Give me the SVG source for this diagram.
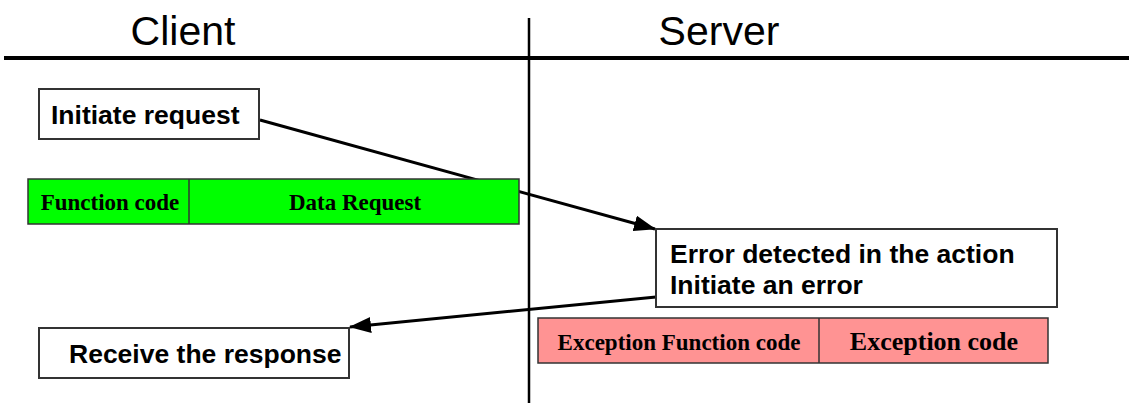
<svg xmlns="http://www.w3.org/2000/svg" width="1129" height="403" viewBox="0 0 1129 403">
<style>
.box{fill:#fff;stroke:#333;stroke-width:2}
.lbl{font-family:"Liberation Sans",Arial,sans-serif;font-weight:bold;font-size:26.5px;fill:#000}
.fld{font-family:"Liberation Serif","Times New Roman",serif;font-weight:bold;fill:#000;text-anchor:middle}
.hdr{font-family:"Liberation Sans",Arial,sans-serif;font-size:41px;fill:#000;text-anchor:middle}
.conn{stroke:#000;stroke-width:3;fill:none}
</style>
<defs>
<marker id="ah2" markerWidth="22" markerHeight="16" refX="21" refY="8" orient="auto" markerUnits="userSpaceOnUse" viewBox="0 0 22 16">
<path d="M0,0 L22,8 L0,16 Z" fill="#000"/>
</marker>
</defs>
<g id="lanes">
<line x1="4" y1="58" x2="1129" y2="58" stroke="#000" stroke-width="4"/>
<line x1="529" y1="18" x2="529" y2="403" stroke="#000" stroke-width="2.5"/>
<text class="hdr" x="183" y="45">Client</text>
<text class="hdr" x="719" y="45">Server</text>
</g>
<g id="connectors">
<line class="conn" x1="260" y1="120" x2="655" y2="229" marker-end="url(#ah2)"/>
<line class="conn" x1="656" y1="297" x2="350" y2="327" marker-end="url(#ah2)"/>
</g>
<g id="initiate">
<rect class="box" x="39" y="89" width="220" height="50"/>
<text class="lbl" x="51" y="124">Initiate request</text>
</g>
<g id="request-frame">
<rect x="28" y="179" width="491" height="45" fill="#00ff00" stroke="#333" stroke-width="1.5"/>
<line x1="189" y1="179" x2="189" y2="224" stroke="#333" stroke-width="1.5"/>
<text class="fld" x="110" y="210" font-size="23">Function code</text>
<text class="fld" x="355" y="210" font-size="23">Data Request</text>
</g>
<g id="error">
<rect class="box" x="656" y="229" width="401" height="78"/>
<text class="lbl" x="670" y="263">Error detected in the action</text>
<text class="lbl" x="670" y="294">Initiate an error</text>
</g>
<g id="exception-frame">
<rect x="538" y="318" width="510" height="45" fill="#ff9393" stroke="#333" stroke-width="1.5"/>
<line x1="819" y1="318" x2="819" y2="363" stroke="#333" stroke-width="1.5"/>
<text class="fld" x="679" y="350" font-size="23">Exception Function code</text>
<text class="fld" x="934" y="350" font-size="26">Exception code</text>
</g>
<g id="receive">
<rect class="box" x="39" y="328" width="310" height="50"/>
<text class="lbl" x="69" y="363">Receive the response</text>
</g>
</svg>
